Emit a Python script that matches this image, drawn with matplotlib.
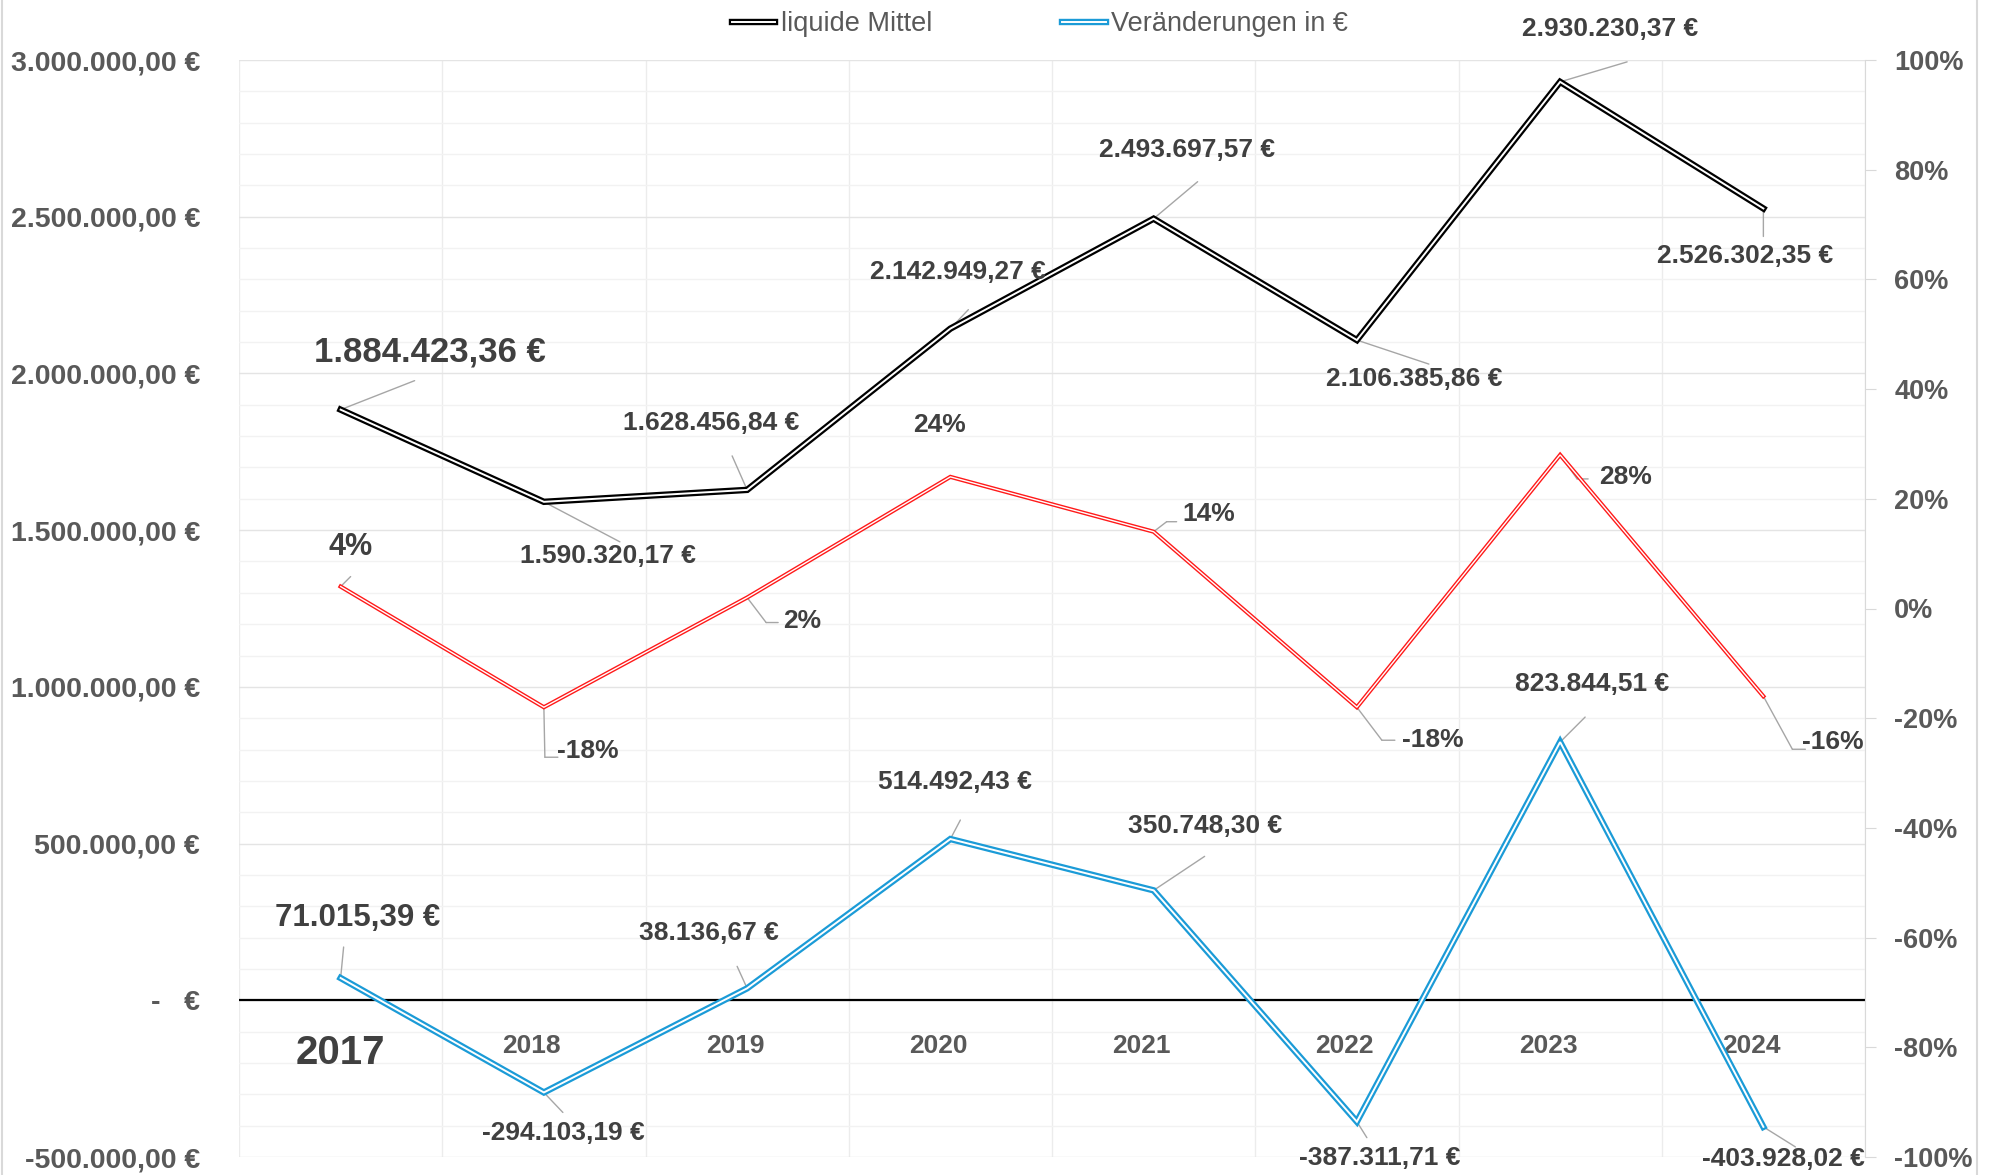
import matplotlib
matplotlib.use("Agg")
import matplotlib.pyplot as plt
import matplotlib.patheffects as pe
from matplotlib.patches import Rectangle
from matplotlib.transforms import offset_copy
from matplotlib.ticker import FuncFormatter, MultipleLocator
import numpy as np

plt.rcParams['font.family'] = ['Liberation Sans', 'DejaVu Sans']
plt.rcParams['font.weight'] = 'bold'

years = ['2017', '2018', '2019', '2020', '2021', '2022', '2023', '2024']
liquide_mittel = [1884423.36, 1590320.17, 1628456.84, 2142949.27,
                  2493697.57, 2106385.86, 2930230.37, 2526302.35]
veraenderung_eur = [71015.39, -294103.19, 38136.67, 514492.43,
                    350748.30, -387311.71, 823844.51, -403928.02]
veraenderung_pct = [4, -18, 2, 24, 14, -18, 28, -16]

TEXT = '#404040'
AXIS_TEXT = '#595959'
LEADER = '#a6a6a6'
BLUE = '#1b9bd7'
RED = '#ff1a1a'

# label / leader offsets in pixels, relative to the data point
black_label_off = [(89, 58), (64, -54), (-36, 67), (8, 57), (33, 69), (57, -39), (50, 53), (-18, -48)]
black_leader = [[(74, 29)], [(76, -40)], [(-15, 34)], [(18, 19)], [(44, 37)], [(72, -24)], [(67, 20)], [(0, -28)]]
red_label_off = [(10, 40), (44, -44), (55, -23), (-11, 52), (55, 18), (76, -33), (65, -22), (69, -46)]
red_leader = [[(10, 10)], [(1, -50), (14, -50)], [(19, -25), (31, -25)], None, [(13, 10), (23, 10)],
              [(25, -33), (38, -33)], [(17, -24), (28, -24)], [(29, -53), (42, -53)]]
blue_label_off = [(17, 60), (19, -41), (-38, 55), (5, 57), (51, 64), (23, -36), (32, 58), (20, -32)]
blue_leader = [[(3, 31)], [(19, -20)], [(-10, 22)], [(10, 19)], [(51, 34)], [(10, -16)], [(25, 25)], [(32, -20)]]


def de_number(v):
    s = f"{v:,.2f}"
    return s.replace(',', 'X').replace('.', ',').replace('X', '.')


def eur_tick(v, pos):
    if abs(v) < 1:
        return '-   €'
    return de_number(v) + ' €'


def double_line(axis, x, y, color, outer, inner, label=None):
    line, = axis.plot(x, y, color='white', lw=inner, label=label,
                      solid_joinstyle='miter', zorder=4,
                      path_effects=[pe.Stroke(linewidth=outer, foreground=color), pe.Normal()])
    return line


def put_labels(axis, x, y, texts, label_off, leaders, first_size, size=19):
    for i in range(len(x)):
        if leaders[i] is not None:
            start = (0, 0)
            for pt in leaders[i]:
                tr = offset_copy(axis.transData, fig=fig, x=start[0], y=start[1], units='dots')
                axis.annotate('', xy=(x[i], y[i]), xycoords=tr,
                              xytext=(pt[0] - start[0], pt[1] - start[1]), textcoords='offset pixels',
                              arrowprops=dict(arrowstyle='-', color=LEADER, lw=1, shrinkA=0, shrinkB=0),
                              zorder=3)
                start = pt
        fs = first_size if i == 0 else size
        axis.annotate(texts[i], xy=(x[i], y[i]), xytext=label_off[i], textcoords='offset pixels',
                      ha='center', va='center', fontsize=fs, color=TEXT, zorder=6)


fig = plt.figure(figsize=(19.93, 11.75), dpi=100)
ax = fig.add_axes([239 / 1993, 1 - 1157 / 1175, (1865 - 239) / 1993, (1157 - 60) / 1175])
ax2 = ax.twinx()

x = np.arange(len(years))

ax.set_xlim(-0.5, len(years) - 0.5)
ax.set_ylim(-500000, 3000000)
ax.yaxis.set_major_locator(MultipleLocator(500000))
ax.yaxis.set_minor_locator(MultipleLocator(100000))
ax.yaxis.set_major_formatter(FuncFormatter(eur_tick))
ax.set_xticks(np.arange(-0.5, len(years), 1))
ax.set_xticklabels([])
ax.tick_params(axis='x', length=0)
ax.tick_params(axis='y', which='both', length=0, labelsize=20.5, labelcolor=AXIS_TEXT, pad=28)
ax.grid(axis='y', which='major', color='#e4e4e4', lw=1)
ax.grid(axis='y', which='minor', color='#f2f2f2', lw=1)
ax.grid(axis='x', which='major', color='#ececec', lw=1)
ax.set_axisbelow(True)
for s in ax.spines.values():
    s.set_visible(False)

ax.axhline(0, color='black', lw=1.6, zorder=2)

ax2.set_ylim(-1, 1)
ax2.set_yticks(np.linspace(-1, 1, 11))
ax2.yaxis.set_major_formatter(FuncFormatter(lambda v, p: f"{v * 100:.0f}%"))
ax2.tick_params(axis='y', length=8, color='#d9d9d9', labelsize=19.5, labelcolor=AXIS_TEXT, pad=13)
for k, s in ax2.spines.items():
    s.set_visible(k == 'right')
ax2.spines['right'].set_color('#d9d9d9')

l_black = double_line(ax, x, liquide_mittel, 'black', 4.6, 1.4, 'liquide Mittel')
l_blue = double_line(ax, x, veraenderung_eur, BLUE, 4.6, 1.4, 'Veränderungen in €')
pct = np.array(veraenderung_pct) / 100
double_line(ax2, x, pct, RED, 3.0, 1.0)

put_labels(ax, x, liquide_mittel, [de_number(v) + ' €' for v in liquide_mittel],
           black_label_off, black_leader, 25)
put_labels(ax, x, veraenderung_eur, [de_number(v) + ' €' for v in veraenderung_eur],
           blue_label_off, blue_leader, 22.5)
put_labels(ax2, x, pct, [f"{p}%" for p in veraenderung_pct],
           red_label_off, red_leader, 22)

# category labels sit just below the zero line
for i, yr in enumerate(years):
    if i == 0:
        ax.annotate(yr, xy=(i, 0), xytext=(0, -53), textcoords='offset pixels',
                    ha='center', va='center', fontsize=29, color=TEXT)
    else:
        ax.annotate(yr, xy=(i, 0), xytext=(-12, -46), textcoords='offset pixels',
                    ha='center', va='center', fontsize=19, color=AXIS_TEXT)

fig.legend(handles=[l_black, l_blue], loc='center', bbox_to_anchor=(1040 / 1993, 1 - 24 / 1175),
           ncol=2, frameon=False, prop={'size': 19.5, 'weight': 'normal'}, labelcolor=AXIS_TEXT,
           handlelength=1.6, handletextpad=0.2, columnspacing=4.8)

fig.patches.append(Rectangle((0.001, -0.01), 0.991, 1.02, transform=fig.transFigure,
                             fill=False, edgecolor='#d9d9d9', lw=1.5))

fig.savefig('out.png', dpi=100)
